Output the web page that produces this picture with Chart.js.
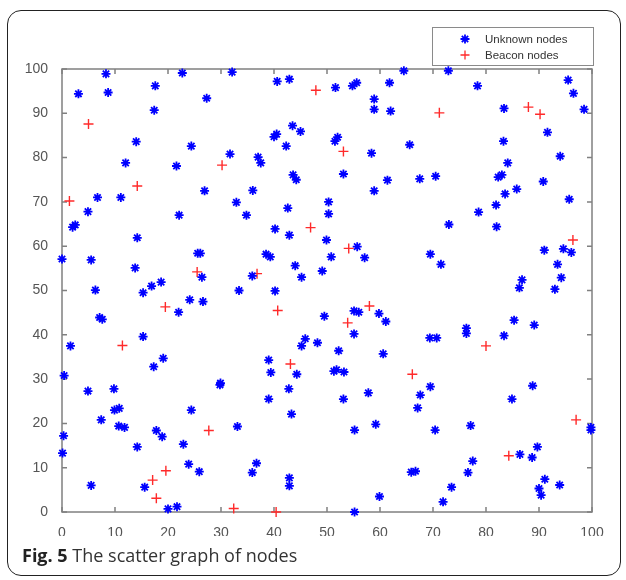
<!DOCTYPE html>
<html>
<head>
<meta charset="utf-8">
<script src="https://cdn.jsdelivr.net/npm/chart.js@4"></script>
<style>
    body { margin: 0; width: 626px; height: 580px; background: #fff; position: relative; overflow: hidden; }
    #frame { position: absolute; left: 7px; top: 10px; width: 612px; height: 564px; border: 1.5px solid #222; border-radius: 14px; }
    #chart { position: absolute; left: 0; top: 0; }
    #legend { position: absolute; left: 432px; top: 27px; width: 160px; height: 37px; border: 1px solid #8a8a8a; background: #fff;
              font: 11.5px 'Liberation Sans', Arial, sans-serif; color: #333; }
    #legend .row { position: absolute; left: 26px; height: 16px; display: flex; align-items: center; }
    #legend canvas { margin-right: 14px; }
    #caption { position: absolute; left: 22px; top: 543px; font: 18px 'Open Sans', sans-serif; color: #333; }
    #caption b { color: #222; }
</style>
</head>
<body>
<div id="frame"></div>
<canvas id="chart" width="626" height="580"></canvas>
<div id="legend">
    <div class="row" style="top:3px"><canvas id="mk-unknown" width="12" height="12"></canvas><span>Unknown nodes</span></div>
    <div class="row" style="top:19px"><canvas id="mk-beacon" width="12" height="12"></canvas><span>Beacon nodes</span></div>
</div>
<div id="caption"><b>Fig. 5</b> The scatter graph of nodes</div>

<script>
// --- Data ---
const unknownX = [
    3.1, 8.3, 8.7, 17.6, 17.4, 22.7, 27.3, 32.1, 14.0, 12.0, 24.4, 21.6, 31.7, 6.7, 11.1, 26.9, 32.9, 4.9, 22.1,
    40.6, 42.9, 51.6, 54.8, 55.6, 61.8, 64.5, 58.9, 58.9, 62.0, 43.5, 45.0, 40.5, 40.0, 42.3, 52.0, 51.5, 58.4,
    65.6, 37.0, 37.5, 43.6, 44.2, 53.1, 61.4, 67.5, 36.0, 58.9, 34.8, 42.6, 50.3, 50.3,
    72.9, 78.4, 95.5, 96.5, 98.5, 83.4, 91.6, 83.3, 94.0, 84.1, 70.5, 82.3, 83.0, 85.8, 83.6, 90.8, 81.9, 95.7, 78.6,
    2.0, 2.5, 14.2, 0.0, 5.5, 25.6, 26.1, 13.8, 26.4, 6.3, 15.3, 16.9, 18.7, 24.1, 26.6, 22.0, 33.4, 7.1, 7.6,
    1.6, 15.3, 19.1,
    40.2, 42.9, 49.9, 55.7, 57.1, 38.5, 39.3, 50.8, 44.0, 49.1, 45.2, 35.9, 40.2, 49.5, 55.1, 56.0, 59.8, 61.1,
    55.1, 45.9, 45.2, 48.2, 52.2, 60.6, 39.0,
    73.0, 82.0, 69.5, 71.5, 91.0, 94.6, 96.1, 93.5, 94.2, 93.0, 86.8, 86.3, 85.3, 89.1, 83.4, 76.3, 76.3, 69.4, 70.7,
    0.4, 4.9, 9.8, 9.9, 10.8, 17.3, 7.4, 10.7, 11.8, 0.3, 0.1, 14.2, 17.8, 18.9, 22.9, 24.4, 23.9, 25.9, 29.8, 29.9,
    33.1, 5.5, 15.6, 20.0, 21.7,
    39.4, 44.3, 51.3, 51.8, 53.2, 42.8, 39.0, 53.1, 57.8, 43.3, 55.2, 59.2, 36.7, 35.9, 42.9, 42.9, 59.9, 55.2,
    65.9, 66.7, 67.6, 67.1,
    69.5, 70.4, 88.8, 84.9, 77.1, 99.8, 99.8, 89.7, 86.4, 88.7, 77.5, 76.6, 91.1, 90.0, 90.4, 93.9, 73.5, 71.9
];
const unknownY = [
    94.4, 98.9, 94.7, 96.2, 90.7, 99.1, 93.4, 99.3, 83.6, 78.8, 82.6, 78.1, 80.8, 71.0, 71.0, 72.5, 69.9, 67.8, 67.0,
    97.2, 97.7, 95.8, 96.2, 96.9, 96.9, 99.6, 93.2, 90.9, 90.5, 87.2, 85.9, 85.3, 84.7, 82.6, 84.6, 83.7, 81.0,
    82.9, 80.1, 78.8, 76.1, 75.0, 76.3, 74.9, 75.2, 72.6, 72.5, 67.0, 68.6, 70.0, 67.3,
    99.6, 96.2, 97.5, 94.5, 90.9, 91.1, 85.7, 83.7, 80.3, 78.8, 75.8, 75.6, 76.1, 72.9, 71.8, 74.6, 69.3, 70.6, 67.7,
    64.3, 64.8, 61.9, 57.1, 56.9, 58.4, 58.4, 55.1, 53.0, 50.1, 49.5, 51.0, 51.9, 47.9, 47.5, 45.1, 50.0, 43.9, 43.5,
    37.5, 39.6, 34.7,
    63.9, 62.5, 61.4, 59.9, 57.4, 58.2, 57.6, 57.6, 55.6, 54.4, 53.0, 53.3, 49.9, 44.2, 45.4, 45.1, 44.8, 43.0,
    40.2, 39.1, 37.5, 38.2, 36.4, 35.7, 34.3,
    64.9, 64.4, 58.2, 55.9, 59.1, 59.4, 58.6, 55.9, 52.9, 50.3, 52.4, 50.6, 43.3, 42.2, 39.8, 41.5, 40.3, 39.3, 39.3,
    30.8, 27.3, 27.8, 23.0, 23.4, 32.8, 20.8, 19.4, 19.1, 17.2, 13.3, 14.7, 18.4, 17.0, 15.3, 23.0, 10.8, 9.1, 28.7, 29.1,
    19.3, 6.0, 5.6, 0.7, 1.2,
    31.5, 31.1, 31.8, 32.1, 31.6, 27.8, 25.5, 25.5, 26.9, 22.1, 18.5, 19.8, 11.0, 8.9, 7.7, 5.9, 3.5, 0.0,
    9.0, 9.2, 26.4, 23.5,
    28.3, 18.5, 28.5, 25.5, 19.5, 19.1, 18.5, 14.7, 13.0, 12.3, 11.5, 8.9, 7.4, 5.3, 3.8, 6.1, 5.6, 2.3
];
const beaconX = [5.0, 14.2, 30.2, 1.4, 47.9, 53.1, 71.2, 88.0, 90.2, 25.5, 19.5, 11.4, 46.9, 54.1, 36.8,
                 40.7, 58.0, 53.9, 96.4, 80.0, 27.7, 17.1, 19.6, 17.8, 32.4, 43.1, 66.1, 40.4, 97.0, 84.3];
const beaconY = [87.6, 73.6, 78.3, 70.2, 95.2, 81.4, 90.1, 91.4, 89.8, 54.2, 46.3, 37.6, 64.2, 59.5, 53.8,
                 45.5, 46.5, 42.7, 61.4, 37.5, 18.4, 7.2, 9.3, 3.1, 0.8, 33.4, 31.1, 0.0, 20.8, 12.7];
const tickValues = [0, 10, 20, 30, 40, 50, 60, 70, 80, 90, 100];

const BLUE = '#0000ff';
const RED = '#ff2a2a';
const AXIS = '#808080';

// --- Legend markers ---
function drawAsterisk(ctx, cx, cy, r) {
    ctx.strokeStyle = BLUE; ctx.lineWidth = 1.8;
    ctx.beginPath();
    ctx.moveTo(cx - r, cy); ctx.lineTo(cx + r, cy);
    ctx.moveTo(cx, cy - r); ctx.lineTo(cx, cy + r);
    const d = r * 0.707;
    ctx.moveTo(cx - d, cy - d); ctx.lineTo(cx + d, cy + d);
    ctx.moveTo(cx - d, cy + d); ctx.lineTo(cx + d, cy - d);
    ctx.stroke();
}
function drawPlus(ctx, cx, cy, r) {
    ctx.strokeStyle = RED; ctx.lineWidth = 1.3;
    ctx.beginPath();
    ctx.moveTo(cx - r, cy); ctx.lineTo(cx + r, cy);
    ctx.moveTo(cx, cy - r); ctx.lineTo(cx, cy + r);
    ctx.stroke();
}
drawAsterisk(document.getElementById('mk-unknown').getContext('2d'), 6, 6, 4.5);
drawPlus(document.getElementById('mk-beacon').getContext('2d'), 6, 6, 4.5);

// --- Box with inward ticks on all four sides ---
const matlabBox = {
    id: 'matlabBox',
    beforeDatasetsDraw(chart) {
        const { ctx, chartArea: a, scales: { x, y } } = chart;
        ctx.save();
        ctx.strokeStyle = AXIS;
        ctx.lineWidth = 1.5;
        ctx.strokeRect(a.left, a.top, a.right - a.left, a.bottom - a.top);
        ctx.beginPath();
        x.ticks.forEach(t => {
            const px = x.getPixelForValue(t.value);
            ctx.moveTo(px, a.bottom); ctx.lineTo(px, a.bottom - 5);
            ctx.moveTo(px, a.top); ctx.lineTo(px, a.top + 5);
        });
        y.ticks.forEach(t => {
            const py = y.getPixelForValue(t.value);
            ctx.moveTo(a.left, py); ctx.lineTo(a.left + 5, py);
            ctx.moveTo(a.right, py); ctx.lineTo(a.right - 5, py);
        });
        ctx.stroke();
        ctx.restore();
    }
};

const tickFont = { family: "'Liberation Sans', Arial, sans-serif", size: 14 };

new Chart(document.getElementById('chart').getContext('2d'), {
    type: 'scatter',
    data: {
        datasets: [
            {
                label: 'Unknown nodes',
                data: unknownX.map((v, i) => ({ x: v, y: unknownY[i] })),
                pointStyle: 'star',
                pointRadius: 4.5,
                pointBorderWidth: 1.8,
                borderColor: BLUE,
                backgroundColor: BLUE,
                clip: false
            },
            {
                label: 'Beacon nodes',
                data: beaconX.map((v, i) => ({ x: v, y: beaconY[i] })),
                pointStyle: 'cross',
                pointRadius: 5,
                pointBorderWidth: 1.4,
                borderColor: RED,
                backgroundColor: RED,
                clip: false
            }
        ]
    },
    options: {
        responsive: false,
        animation: false,
        devicePixelRatio: 1,
        layout: { padding: { left: 14, right: 34, top: 69, bottom: 44 } },
        scales: {
            x: {
                type: 'linear',
                min: 0, max: 100,
                afterFit: s => { s.height = 24; },
                afterBuildTicks: s => { s.ticks = tickValues.map(v => ({ value: v })); },
                grid: { display: false },
                border: { display: false },
                ticks: { color: '#555', font: tickFont, padding: 5, maxRotation: 0 }
            },
            y: {
                type: 'linear',
                min: 0, max: 100,
                afterFit: s => { s.width = 48; },
                afterBuildTicks: s => { s.ticks = tickValues.map(v => ({ value: v })); },
                grid: { display: false },
                border: { display: false },
                ticks: { color: '#555', font: tickFont, padding: 6 }
            }
        },
        plugins: {
            legend: { display: false },
            tooltip: { enabled: false }
        }
    },
    plugins: [matlabBox]
});
</script>
</body>
</html>
